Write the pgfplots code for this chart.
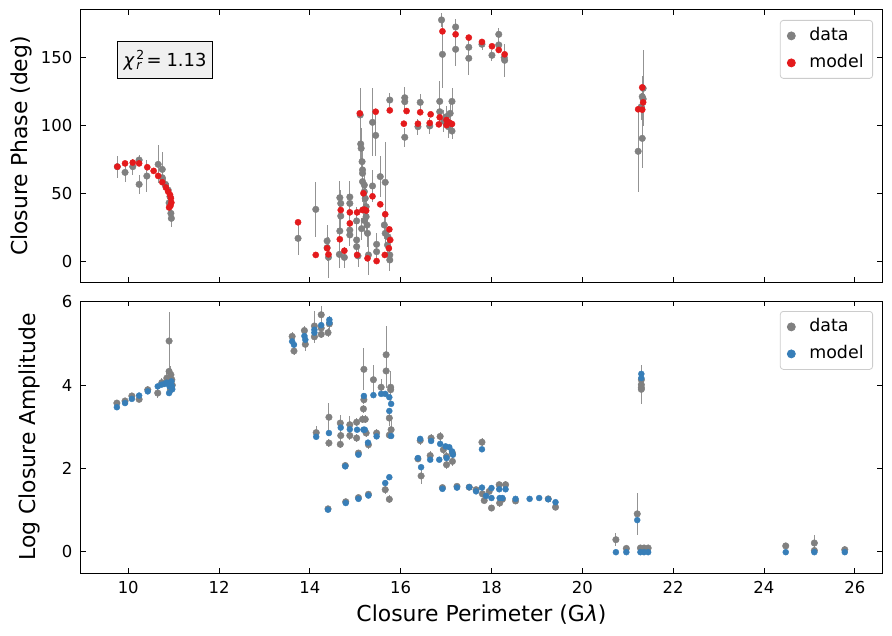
\documentclass[border=0pt]{standalone}
\usepackage{pgfplots}
\pgfplotsset{compat=1.18}
\usepackage{pgfplotstable}
\usepackage{fontspec}
\setmainfont{DejaVu Sans}
\definecolor{dgray}{HTML}{808080}
\definecolor{mred}{HTML}{E41A1C}
\definecolor{mblue}{HTML}{377EB8}

\pgfplotstableread{
x y e
9.76 69.6 8
9.93 65.4 7
10.10 69.6 6
10.24 74.5 4
10.24 56.6 7
10.41 62.7 12
10.66 71.3 14
10.75 67.6 13
10.75 61.5 6
10.82 56.6 5
10.88 52.4 5
10.92 47.5 5
10.90 43.0 4
10.94 35.3 5
10.95 31.6 6
13.74 16.9 12
14.13 38.2 20
14.38 15.0 12
14.38 10.0 10
14.41 3.0 15
14.65 5.1 10
14.66 22.3 12
14.68 42.6 10
14.66 46.8 12
14.68 33.3 10
14.76 2.9 8
14.88 47.3 12
14.88 42.6 10
14.88 23.0 10
14.88 19.4 8
15.03 29.7 10
15.03 15.7 10
15.03 10.8 8
15.06 4.0 8
15.11 107.6 20
15.12 86.3 15
15.13 83.1 15
15.15 73.3 12
15.16 67.2 15
15.16 64.7 12
15.16 58.6 15
15.20 56.1 12
15.20 51.2 10
15.22 46.3 12
15.24 40.2 10
15.24 32.8 12
15.26 26.7 10
15.27 20.6 10
15.29 4.7 15
15.18 38.0 10
15.20 30.0 10
15.14 24.0 8
15.38 102.2 25
15.45 92.6 15
15.38 55.4 12
15.55 62.3 15
15.47 12.5 8
15.47 7.1 8
15.66 58.1 30
15.64 26.7 10
15.66 20.6 10
15.71 12.0 8
15.76 4.7 10
15.76 1.0 8
15.72 18.0 8
15.76 118.6 5
16.09 120.3 8
16.09 117.4 6
16.09 91.2 7
16.43 116.9 6
16.38 99.0 6
16.64 99.5 6
16.86 117.6 15
16.86 110.0 10
17.01 106.4 8
17.09 108.8 8
17.13 117.6 10
17.13 95.8 6
17.05 99.0 8
16.95 103.0 8
16.90 177.5 5
16.92 152.2 25
17.21 172.3 6
17.21 155.9 12
17.50 157.4 5
17.50 149.3 12
17.79 159.6 4
18.01 151.5 4
18.16 166.9 5
18.16 159.1 6
18.29 147.8 12
18.28 149.8 8
21.23 80.9 30
21.34 127.2 28
21.32 121.1 15
21.34 119.4 12
21.32 90.4 22
21.30 113.7 10
}\topdata

\pgfplotstableread{
x y
9.76 69.6
9.93 72.0
10.10 72.6
10.24 72.0
10.42 69.2
10.56 66.5
10.66 62.8
10.75 58.2
10.83 54.3
10.88 51.3
10.92 48.9
10.94 46.4
10.95 43.2
10.93 40.8
10.90 39.6
13.74 28.7
14.13 4.7
14.38 9.6
14.41 5.1
14.68 37.7
14.66 16.2
14.76 7.8
14.88 36.0
14.88 27.9
15.04 36.0
15.04 4.7
15.10 108.8
15.18 50.0
15.16 37.7
15.24 37.3
15.20 38.0
15.27 2.2
15.45 110.0
15.38 47.8
15.55 41.9
15.47 0.2
15.66 34.6
15.65 4.7
15.75 23.5
15.77 15.7
15.74 9.6
15.76 111.0
16.13 110.5
16.07 101.2
16.43 109.6
16.38 101.2
16.66 108.1
16.64 101.7
16.86 105.9
16.84 100.7
17.01 103.9
17.01 100.2
17.07 102.0
17.13 101.0
16.92 169.1
17.21 166.9
17.50 164.5
17.79 161.3
18.01 158.1
18.16 155.4
18.29 152.2
21.23 111.8
21.32 111.5
21.32 127.9
21.34 116.9
}\topmodel

\pgfplotstableread{
x y e
9.75 3.57 0.08
9.93 3.62 0.06
10.08 3.74 0.08
10.24 3.66 0.06
10.43 3.89 0.10
10.65 3.81 0.12
10.74 4.06 0.10
10.85 4.17 0.20
10.90 5.06 0.70
10.90 4.33 0.30
10.94 4.25 0.20
10.93 3.89 0.10
10.96 4.13 0.15
10.97 4.00 0.10
13.61 5.17 0.10
13.65 4.82 0.10
13.88 5.31 0.10
13.90 4.98 0.15
14.10 5.42 0.35
14.10 5.16 0.15
14.25 5.69 0.20
14.25 5.37 0.10
14.25 5.22 0.10
14.43 5.47 0.20
14.40 5.26 0.10
14.14 2.86 0.15
14.42 3.23 0.35
14.42 2.61 0.10
14.67 3.09 0.20
14.68 2.79 0.10
14.67 2.58 0.10
14.88 3.05 0.20
14.88 2.79 0.10
14.78 2.07 0.05
15.03 3.11 0.10
15.03 2.73 0.10
15.07 2.37 0.05
15.18 3.43 0.10
15.16 3.18 0.10
15.22 3.18 0.10
15.19 3.65 0.10
15.19 4.38 0.50
15.24 2.85 0.10
15.29 2.57 0.10
15.40 4.13 0.35
15.47 2.85 0.10
15.57 3.95 0.20
15.68 4.73 0.70
15.68 4.34 0.40
15.78 3.95 0.40
15.78 3.89 0.20
15.75 3.21 0.20
15.79 2.93 0.20
15.75 2.80 0.10
14.40 1.03 0.05
14.79 1.20 0.05
15.07 1.30 0.05
15.29 1.38 0.05
15.66 1.49 0.10
15.75 1.26 0.10
16.43 2.67 0.10
16.38 2.23 0.05
16.45 1.82 0.20
16.67 2.73 0.10
16.65 2.31 0.10
16.87 2.77 0.10
16.94 2.45 0.10
17.01 2.29 0.10
17.01 2.09 0.10
17.14 2.37 0.10
17.14 2.17 0.10
16.92 1.54 0.05
17.24 1.57 0.05
17.51 1.55 0.05
17.66 1.49 0.05
17.79 2.63 0.10
17.84 1.23 0.05
17.80 1.39 0.05
17.95 1.45 0.05
18.00 1.05 0.05
18.17 1.61 0.05
18.18 1.17 0.10
18.24 1.26 0.05
18.31 1.61 0.10
18.53 1.22 0.05
19.25 1.27 0.05
19.41 1.07 0.05
20.74 0.29 0.15
20.97 0.08 0.05
21.21 0.91 0.50
21.28 0.09 0.05
21.36 0.09 0.05
21.45 0.09 0.05
21.30 4.13 0.35
21.30 4.01 0.30
21.30 3.90 0.30
21.30 3.94 0.40
24.48 0.14 0.05
25.11 0.21 0.20
25.11 0.03 0.05
25.78 0.05 0.10
}\botdata

\pgfplotstableread{
x y
9.75 3.47
9.93 3.57
10.08 3.67
10.24 3.75
10.43 3.85
10.65 3.97
10.73 4.01
10.80 4.03
10.85 4.06
10.90 3.81
10.91 3.97
10.95 4.09
10.96 3.98
10.97 3.90
13.61 5.05
13.65 4.97
13.88 5.18
13.90 5.09
14.10 5.33
14.10 5.26
14.25 5.44
14.43 5.57
14.43 5.50
14.14 2.76
14.42 2.85
14.68 2.98
14.88 2.94
14.78 2.05
15.04 2.93
15.07 2.33
15.18 2.93
15.21 2.93
15.19 3.74
15.28 2.62
15.40 3.76
15.47 2.77
15.57 3.79
15.66 3.79
15.75 3.71
15.79 3.55
15.75 3.38
15.79 2.78
14.40 1.01
14.79 1.17
15.07 1.27
15.29 1.35
15.66 1.65
15.75 1.79
16.43 2.71
16.38 2.25
16.45 2.03
16.67 2.66
16.65 2.21
16.87 2.59
16.85 2.21
16.99 2.53
17.01 2.25
17.07 2.51
17.13 2.41
17.15 2.33
16.92 1.51
17.24 1.54
17.51 1.55
17.66 1.45
17.79 2.46
17.79 1.54
17.88 1.34
18.00 1.29
18.00 1.53
18.17 1.50
18.18 1.29
18.24 1.29
18.31 1.50
18.53 1.27
18.84 1.27
19.05 1.29
19.25 1.26
19.41 1.19
20.74 -0.01
20.97 -0.01
21.21 0.76
21.28 -0.01
21.36 -0.01
21.45 -0.01
21.30 4.27
21.30 4.17
24.48 -0.01
25.11 -0.01
25.78 -0.01
}\botmodel

\pgfplotsset{
  base/.style={
    scale only axis, width=801bp, height=272bp,
    xmin=8.96, xmax=26.6,
    xtick={10,12,...,26},
    tick align=inside,
    major tick length=5bp,
    minor tick num=0,
    every tick/.style={black, line width=0.8bp},
    axis line style={line width=1bp},
    /pgf/number format/assume math mode=true,
    ticklabel style={font=\fontsize{16.5}{16.5}\selectfont, inner sep=8.5bp},
    label style={font=\fontsize{22}{22}\selectfont},
    legend style={at={(1,1)}, anchor=north east, xshift=-9bp, yshift=-10bp,
      draw=black!20, line width=0.8bp, rounded corners=3bp,
      font=\fontsize{17.5}{17.5}\selectfont, inner xsep=7bp, inner ysep=5bp,
      row sep=6bp, column sep=12bp,
      nodes={inner sep=2bp, text height=13bp, text depth=4bp}},
    legend cell align=left,
    legend image code/.code={\draw[mark repeat=2,mark phase=2,#1,mark size=4bp] plot coordinates {(0bp,0bp) (18bp,0bp) (36bp,0bp)};},
  },
  dstyle/.style={only marks, mark=*, mark size=3.3bp, color=dgray,
    mark options={draw=dgray, fill=dgray},
    error bars/.cd, y dir=both, y explicit,
    error bar style={line width=0.9bp, color=dgray!85}, error mark=none},
}

\begin{document}
\begin{tikzpicture}
\useasboundingbox (-81bp,-354bp) rectangle (811bp,282bp);
\begin{axis}[base, name=top,
  ymin=-15.2, ymax=184.8, ytick={0,50,100,150},
  xticklabels={},
  ylabel={Closure Phase (deg)},
  ylabel style={at={(axis description cs:-0.0749,0.5)}, anchor=center},
]
\addplot+[dstyle] table[x=x, y=y, y error=e] {\topdata};
\addlegendentry{data}
\addplot+[only marks, mark=*, mark size=3.1bp, color=mred, mark options={draw=mred, fill=mred}] table[x=x, y=y] {\topmodel};
\addlegendentry{model}
\node[draw=black, line width=1bp, fill=black!6, inner sep=0pt, anchor=center,
  minimum width=95bp, minimum height=37bp,
  font=\fontsize{18}{18}\selectfont] at (axis description cs:0.105,0.816)
  {\textit{χ}\hspace{1.5bp}\makebox[0pt][l]{\raisebox{6.5bp}{\fontsize{12.5}{12.5}\selectfont 2}}\raisebox{-3.5bp}{\fontsize{12.5}{12.5}\selectfont\itshape r}\hspace{5bp}=\hspace{5bp}1.13};
\end{axis}
\begin{axis}[base, name=bot, at={(top.south west)}, anchor=north west, yshift=-19bp,
  ymin=-0.51, ymax=6.02, ytick={0,2,4,6},
  ylabel={Log Closure Amplitude},
  ylabel style={at={(axis description cs:-0.0649,0.5)}, anchor=center},
  xlabel={Closure Perimeter (G\textit{λ})},
  xlabel style={at={(axis description cs:0.5,-0.1537)}, anchor=center},
]
\addplot+[dstyle] table[x=x, y=y, y error=e] {\botdata};
\addlegendentry{data}
\addplot+[only marks, mark=*, mark size=3.0bp, color=mblue, mark options={draw=mblue, fill=mblue}] table[x=x, y=y] {\botmodel};
\addlegendentry{model}
\end{axis}
\end{tikzpicture}
\end{document}
